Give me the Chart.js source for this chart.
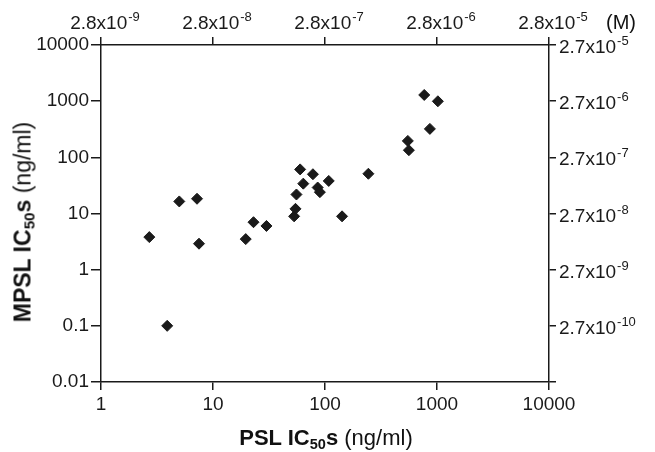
<!DOCTYPE html>
<html>
<head>
<meta charset="utf-8">
<script src="https://cdn.jsdelivr.net/npm/chart.js@4"></script>
<style>
  html, body { margin: 0; padding: 0; background: #fff; }
  #wrap { position: relative; width: 655px; height: 452px; font-family: "Liberation Sans", Arial, sans-serif; color: #111; }
  canvas { position: absolute; left: 0; top: 0; }
  .title { position: absolute; white-space: nowrap; line-height: 1; }
  .title b sub { font-size: 0.66em; vertical-align: -0.25em; line-height: 0; }
  #ytitle { left: 23px; top: 222px; font-size: 23px; transform: translate(-50%, -50%) rotate(-90deg); }
  #xtitle { left: 326px; top: 438px; font-size: 22px; transform: translate(-50%, -50%); }
  #unit { position: absolute; left: 621px; top: 22px; transform: translate(-50%, -50%); font-size: 20px; white-space: nowrap; }
</style>
</head>
<body>
<div id="wrap">
  <canvas id="chart" width="655" height="452"></canvas>
  <div class="title" id="ytitle"><b>MPSL IC<sub>50</sub>s</b> (ng/ml)</div>
  <div class="title" id="xtitle"><b>PSL IC<sub>50</sub>s</b> (ng/ml)</div>
  <div id="unit">(M)</div>
</div>
<script>
// PSL IC50 (ng/ml) vs MPSL IC50 (ng/ml)
const pslValues = [2.7, 3.9, 5.0, 7.2, 7.5, 19.6, 23, 30, 53, 54.5, 55.6, 60, 64, 78, 86, 90, 108, 142, 244, 549, 561, 769, 864, 1018];
const mpslValues = [3.8, 0.1, 16.4, 18.3, 2.9, 3.5, 7.0, 6.0, 8.9, 12.1, 21.8, 61, 34, 50, 29, 24, 38, 8.9, 51, 196, 134, 1290, 321, 995];

const xTicks = [1, 10, 100, 1000, 10000];
const xTickLabels = ["1", "10", "100", "1000", "10000"];
// top axis: molar equivalents, written as 2.8x10^exp
const topBase = "2.8x10";
const topExponents = ["-9", "-8", "-7", "-6", "-5"];

const yTicks = [0.01, 0.1, 1, 10, 100, 1000, 10000];
const yTickLabels = ["0.01", "0.1", "1", "10", "100", "1000", "10000"];
// right axis: 2.7x10^exp, nothing at the bottom tick
const rightBase = "2.7x10";
const rightExponents = ["", "-10", "-9", "-8", "-7", "-6", "-5"];

const ink = "#1a1a1a";
const fontFamily = "'Liberation Sans', Arial, sans-serif";
const tickFont = { family: fontFamily, size: 19 };

function axis(position, min, max, values, labels, tickLength, padding, fit) {
  return {
    type: "logarithmic",
    position,
    min,
    max,
    afterBuildTicks: scale => {
      scale.ticks = values.map(v => ({ value: v }));
    },
    afterFit: fit,
    ticks: {
      display: !!labels,
      autoSkip: false,
      maxRotation: 0,
      padding,
      color: ink,
      font: tickFont,
      callback: (value, index) => labels ? labels[index] : ""
    },
    grid: {
      display: true,
      drawOnChartArea: false,
      drawTicks: true,
      tickLength,
      color: ink,
      lineWidth: 1.5
    },
    border: { display: true, color: ink, width: 1.5 }
  };
}

// draws "base" with a raised exponent, like 2.8x10^-9
function drawPower(ctx, base, exp, x, y, align) {
  ctx.font = "19px " + fontFamily;
  const bw = ctx.measureText(base).width;
  ctx.font = "13px " + fontFamily;
  const ew = ctx.measureText(exp).width;
  const left = align === "center" ? x - (bw + ew + 1) / 2 : x;
  ctx.font = "19px " + fontFamily;
  ctx.fillText(base, left, y);
  ctx.font = "13px " + fontFamily;
  ctx.fillText(exp, left + bw + 1, y - 8);
}

const powerLabels = {
  id: "powerLabels",
  afterDraw(chart) {
    const ctx = chart.ctx;
    const top = chart.scales.x2;
    const right = chart.scales.y2;
    ctx.save();
    ctx.fillStyle = ink;
    ctx.textBaseline = "alphabetic";
    ctx.textAlign = "left";
    xTicks.forEach((v, i) => {
      drawPower(ctx, topBase, topExponents[i], top.getPixelForValue(v) + 4, 29, "center");
    });
    yTicks.forEach((v, i) => {
      if (!rightExponents[i]) return;
      drawPower(ctx, rightBase, rightExponents[i], right.left + 10, right.getPixelForValue(v) + 8, "left");
    });
    ctx.restore();
  }
};

new Chart(document.getElementById("chart"), {
  type: "scatter",
  data: {
    datasets: [{
      data: pslValues.map((x, i) => ({ x, y: mpslValues[i] })),
      xAxisID: "x",
      yAxisID: "y",
      pointStyle: "rectRot",
      pointRadius: 5.5,
      borderWidth: 1,
      backgroundColor: ink,
      borderColor: ink
    }]
  },
  options: {
    responsive: false,
    animation: false,
    layout: { padding: 0 },
    plugins: { legend: { display: false }, tooltip: { enabled: false } },
    scales: {
      x: axis("bottom", 1, 10000, xTicks, xTickLabels, 8, 3, s => { s.height = 70; }),
      x2: axis("top", 1, 10000, xTicks, null, 8, 3, s => { s.height = 45; }),
      y: axis("left", 0.01, 10000, yTicks, yTickLabels, 10, 2, s => { s.width = 101; }),
      y2: axis("right", 0.01, 10000, yTicks, null, 7, 5, s => { s.width = 106; })
    }
  },
  plugins: [powerLabels]
});
</script>
</body>
</html>
